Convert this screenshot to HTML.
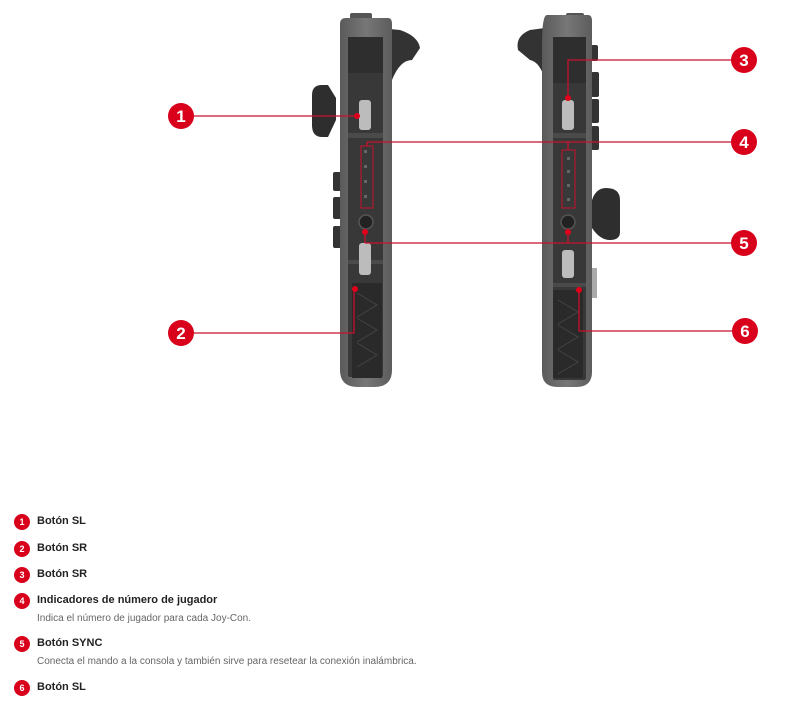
<!DOCTYPE html>
<html><head><meta charset="utf-8"><style>
html,body{margin:0;padding:0;background:#fff;}
body{width:800px;height:707px;position:relative;overflow:hidden;font-family:"Liberation Sans",sans-serif;}
.it{position:absolute;left:37px;font-size:11px;font-weight:bold;color:#222;}
.sub{position:absolute;left:37px;font-size:10px;color:#666;}
</style></head><body>
<svg width="800" height="707" style="position:absolute;left:0;top:0" xmlns="http://www.w3.org/2000/svg">
<defs>
<linearGradient id="bd" x1="0" x2="1"><stop offset="0" stop-color="#5a5a5a"/><stop offset="0.5" stop-color="#777"/><stop offset="1" stop-color="#5c5c5c"/></linearGradient>
</defs>
<!-- LEFT JOYCON -->
<path d="M380 28 L400 30 Q418 36 420 48 L412 60 Q400 60 392 80 L385 80 Z" fill="#333"/>
<rect x="350" y="13" width="22" height="8" rx="2" fill="#555"/>
<path d="M322 85 Q312 85 312 95 L312 125 Q312 137 322 137 L328 137 L336 120 L336 98 L328 85 Z" fill="#2e2e2e"/>
<rect x="333" y="172" width="8" height="19" rx="2" fill="#333"/>
<rect x="333" y="197" width="8" height="22" rx="2" fill="#333"/>
<rect x="333" y="226" width="8" height="22" rx="2" fill="#333"/>
<path d="M346 18 L388 18 Q392 18 392 24 L392 370 Q392 387 374 387 L358 387 Q340 387 340 370 L340 24 Q340 18 346 18 Z" fill="url(#bd)"/>
<rect x="348" y="37" width="35" height="340" rx="2" fill="#383838"/>
<rect x="348" y="37" width="35" height="36" fill="#2e2e2e"/>
<rect x="348" y="133" width="35" height="5" fill="#4a4a4a"/>
<rect x="348" y="260" width="35" height="4" fill="#4a4a4a"/>
<rect x="359" y="100" width="12" height="30" rx="3" fill="#bcbcbc"/>
<rect x="359" y="243" width="12" height="32" rx="3" fill="#bcbcbc"/>
<circle cx="366" cy="222" r="7" fill="#222" stroke="#555" stroke-width="1.5"/>
<rect x="352" y="283" width="30" height="95" fill="#2a2a2a"/>
<path d="M357 293 L377 305 L357 317 M357 318 L377 330 L357 342 M357 343 L377 355 L357 367" stroke="#444" fill="none"/>
<g fill="#666"><rect x="364" y="150" width="3" height="3"/><rect x="364" y="165" width="3" height="3"/><rect x="364" y="180" width="3" height="3"/><rect x="364" y="195" width="3" height="3"/></g>
<rect x="361" y="146" width="12" height="62" fill="none" stroke="#c8102e" stroke-width="1"/>
<!-- RIGHT JOYCON -->
<path d="M545 28 L530 30 Q515 36 518 50 L530 60 Q540 62 545 80 Z" fill="#333"/>
<rect x="566" y="13" width="18" height="8" rx="2" fill="#555"/>
<rect x="591" y="45" width="7" height="16" rx="2" fill="#333"/>
<rect x="591" y="72" width="8" height="25" rx="2" fill="#333"/>
<rect x="591" y="99" width="8" height="24" rx="2" fill="#333"/>
<rect x="591" y="126" width="8" height="24" rx="2" fill="#333"/>
<path d="M592 200 Q596 188 606 188 Q620 188 620 200 L620 232 Q620 240 610 240 Q600 240 592 228 Z" fill="#2e2e2e"/>
<rect x="592" y="268" width="5" height="30" fill="#aaa"/>
<path d="M547 15 L588 15 Q592 15 592 21 L592 372 Q592 387 576 387 L558 387 Q542 387 542 372 L542 45 Q542 15 547 15 Z" fill="url(#bd)"/>
<rect x="553" y="37" width="33" height="343" rx="2" fill="#383838"/>
<rect x="553" y="37" width="33" height="46" fill="#2e2e2e"/>
<rect x="553" y="133" width="33" height="5" fill="#4a4a4a"/>
<rect x="553" y="283" width="33" height="4" fill="#4a4a4a"/>
<rect x="562" y="100" width="12" height="30" rx="3" fill="#bcbcbc"/>
<rect x="562" y="250" width="12" height="28" rx="3" fill="#bcbcbc"/>
<circle cx="568" cy="222" r="7" fill="#222" stroke="#555" stroke-width="1.5"/>
<rect x="553" y="290" width="30" height="88" fill="#2a2a2a"/>
<path d="M558 300 L578 312 L558 324 M558 325 L578 337 L558 349 M558 350 L578 362 L558 374" stroke="#444" fill="none"/>
<g fill="#666"><rect x="567" y="157" width="3" height="3"/><rect x="567" y="170" width="3" height="3"/><rect x="567" y="184" width="3" height="3"/><rect x="567" y="198" width="3" height="3"/></g>
<rect x="562" y="150" width="13" height="58" fill="none" stroke="#c8102e" stroke-width="1"/>
<!-- CALLOUT LINES -->
<g stroke="#c8102e" stroke-width="1.3" fill="none">
<line x1="181" y1="116" x2="357" y2="116"/>
<polyline points="181,333 354,333 354,289"/>
<polyline points="743,60 568,60 568,98"/>
<line x1="367" y1="142" x2="743" y2="142"/>
<line x1="367" y1="142" x2="367" y2="146"/>
<line x1="568" y1="142" x2="568" y2="150"/>
<line x1="365" y1="243" x2="743" y2="243"/>
<line x1="365" y1="232" x2="365" y2="243"/>
<line x1="568" y1="232" x2="568" y2="243"/>
<polyline points="745,331 579,331 579,290"/>
</g>
<g fill="#e1001a">
<circle cx="357" cy="116" r="3"/><circle cx="355" cy="289" r="3"/><circle cx="568" cy="98" r="3"/>
<circle cx="365" cy="232" r="3"/><circle cx="568" cy="232" r="3"/><circle cx="579" cy="290" r="3"/>
</g>
<g fill="#d8001a">
<circle cx="181" cy="116" r="13"/><circle cx="181" cy="333" r="13"/>
<circle cx="744" cy="60" r="13"/><circle cx="744" cy="142" r="13"/><circle cx="744" cy="243" r="13"/><circle cx="745" cy="331" r="13"/>
<circle cx="22" cy="522" r="8"/><circle cx="22" cy="549" r="8"/><circle cx="22" cy="575" r="8"/><circle cx="22" cy="601" r="8"/><circle cx="22" cy="644" r="8"/><circle cx="22" cy="688" r="8"/>
</g>
<g fill="#fff" font-family="Liberation Sans, sans-serif" font-weight="bold" font-size="17" text-anchor="middle">
<text x="181" y="122">1</text><text x="181" y="339">2</text><text x="744" y="66">3</text><text x="744" y="148">4</text><text x="744" y="249">5</text><text x="745" y="337">6</text>
</g>
<g fill="#fff" font-family="Liberation Sans, sans-serif" font-weight="bold" font-size="9" text-anchor="middle">
<text x="22" y="525">1</text><text x="22" y="552">2</text><text x="22" y="578">3</text><text x="22" y="604">4</text><text x="22" y="647">5</text><text x="22" y="691">6</text>
</g>
</svg>
<div class="it" style="top:515px">Botón SL</div>
<div class="it" style="top:542px">Botón SR</div>
<div class="it" style="top:568px">Botón SR</div>
<div class="it" style="top:594px">Indicadores de número de jugador</div>
<div class="sub" style="top:613px">Indica el número de jugador para cada Joy-Con.</div>
<div class="it" style="top:637px">Botón SYNC</div>
<div class="sub" style="top:656px">Conecta el mando a la consola y también sirve para resetear la conexión inalámbrica.</div>
<div class="it" style="top:681px">Botón SL</div>
</body></html>
